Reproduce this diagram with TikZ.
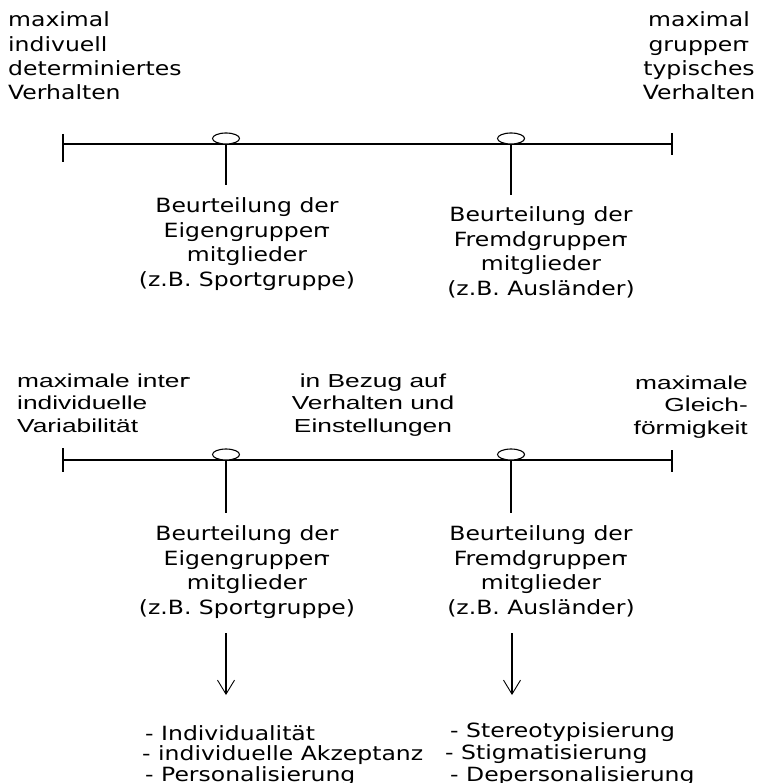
\documentclass[tikz,border=0pt]{standalone}
\usepackage{fontspec}
\setmainfont{DejaVu Sans}
\newfontfamily\gen[FakeStretch=1.2]{DejaVu Sans}
\newfontfamily\hel[FakeStretch=1.4]{Liberation Sans}
\usetikzlibrary{shapes.geometric,arrows.meta}
\newcommand{\overhy}{\kern-.32em\raisebox{.17em}{-}}
\begin{document}
\begin{tikzpicture}[x=1pt,y=-1pt,
  lbl/.style={inner sep=0pt, font=\gen\fontsize{19.6}{24.4}\selectfont},
  nar/.style={inner sep=0pt, font=\hel\fontsize{18.8}{22.5}\selectfont},
  lst/.style={inner sep=0pt, font=\gen\fontsize{19.6}{20.5}\selectfont, align=left},
  lstb/.style={inner sep=0pt, font=\gen\fontsize{19.6}{22}\selectfont, align=left},
  axis/.style={line width=1.1pt},
  knob/.style={ellipse, draw, fill=white, line width=1.1pt, minimum width=27pt, minimum height=11pt, inner sep=0pt},
  conn/.style={line width=1.1pt},
  arr/.style={line width=1.1pt, -{Straight Barb[length=14pt,width=17pt,line width=0.9pt]}}]
\useasboundingbox (0,0) rectangle (768,783);

% ---------- top scale ----------
\node[lbl, anchor=base west, align=left] (tl) at (8,100) {maximal\\indivuell\\determiniertes\\Verhalten};
\node[lbl, anchor=base, align=center] (tr) at (699,100) {maximal\\gruppen\overhy\\typisches\\Verhalten};

\coordinate (a1l) at (63,144);
\coordinate (a1r) at (672,144);
\draw[axis] (a1l) -- (a1r);
\draw[axis] ([yshift=10pt]a1l) -- ([yshift=-18pt]a1l);
\draw[axis] ([yshift=11pt]a1r) -- ([yshift=-11pt]a1r);

\node[knob] (k1) at (226,138.5) {};
\node[knob] (k2) at (511,138.5) {};
\coordinate (k1e) at (226,185);
\coordinate (k2e) at (511,195);
\draw[conn] (k1.south) -- (k1e);
\draw[conn] (k2.south) -- (k2e);

\node[lbl, anchor=base, align=center] (g1) at (247,286) {Beurteilung der\\Eigengruppen\overhy\\mitglieder\\(z.B. Sportgruppe)};
\node[lbl, anchor=base, align=center] (f1) at (541,295) {Beurteilung der\\Fremdgruppen\overhy\\mitglieder\\(z.B. Ausländer)};

% ---------- bottom scale ----------
\node[nar, anchor=base west, align=left] (bl) at (17,432) {maximale inter\overhy\\individuelle\\Variabilität};
\node[nar, anchor=base, align=center] (bm) at (373,432) {in Bezug auf\\Verhalten und\\Einstellungen};
\node[nar, anchor=base east, align=right] (br) at (748,434) {maximale\\Gleich-\\förmigkeit};

\coordinate (a2l) at (63,460);
\coordinate (a2r) at (672,460);
\draw[axis] (a2l) -- (a2r);
\draw[axis] ([yshift=12pt]a2l) -- ([yshift=-12pt]a2l);
\draw[axis] ([yshift=10pt]a2r) -- ([yshift=-12pt]a2r);

\node[knob] (k3) at (226,454.5) {};
\node[knob] (k4) at (511,454.5) {};
\coordinate (k3e) at (226,513);
\coordinate (k4e) at (511,513);
\draw[conn] (k3.south) -- (k3e);
\draw[conn] (k4.south) -- (k4e);

\node[lbl, anchor=base, align=center] (g2) at (247,614) {Beurteilung der\\Eigengruppen\overhy\\mitglieder\\(z.B. Sportgruppe)};
\node[lbl, anchor=base, align=center] (f2) at (541,614) {Beurteilung der\\Fremdgruppen\overhy\\mitglieder\\(z.B. Ausländer)};

\coordinate (p1s) at (226,633);
\coordinate (p1e) at (226,695);
\coordinate (p2s) at (512,633);
\coordinate (p2e) at (512,695);
\draw[arr] (p1s) -- (p1e);
\draw[arr] (p2s) -- (p2e);

\node[lst, anchor=base west] (l1) at (142,781) {\hspace*{3pt}- Individualität\\- individuelle Akzeptanz\\\hspace*{3pt}- Personalisierung};
\node[lstb, anchor=base west] (l2) at (445,781) {\hspace*{5pt}- Stereotypisierung\\- Stigmatisierung\\\hspace*{5pt}- Depersonalisierung};
\end{tikzpicture}
\end{document}
